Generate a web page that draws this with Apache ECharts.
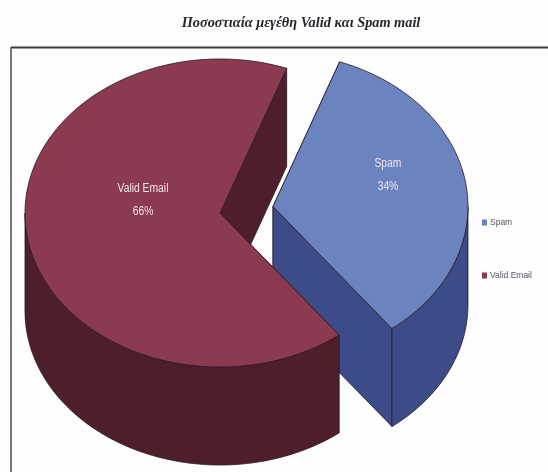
<!DOCTYPE html>
<html><head><meta charset="utf-8">
<style>html,body{margin:0;padding:0;background:#fdfdfd}#c{width:548px;height:472px;filter:blur(0.6px)}</style>
<script src="https://cdn.jsdelivr.net/npm/echarts@6/dist/echarts.min.js"></script>
</head><body><div id="c"></div>
<script>
const titleText = 'Ποσοστιαία μεγέθη Valid και Spam mail';
const categories = ['Spam', 'Valid Email'];
const values = [34, 66];

const topColors = ['#6b83bf', '#8c3a50'];
const wallColors = ['#3d4b88', '#4e1f2a'];
const edgeColor = '#2a1a2a';
const bodyFont = '"Liberation Sans",sans-serif';

// projection of the tilted pie
const RX = 195, RY = 154, DEPTH = 98;
const CX = 220, CY = 213;          // centre of the un-exploded slice
const FIRST = 70;                  // parametric angle where the first slice starts
const EXPLODE = 53.6;              // radial pull of the first slice

const total = values.reduce((a, b) => a + b, 0);
function sliceAngles(i) {
  let before = 0;
  for (let k = 0; k < i; k++) before += values[k];
  const a0 = FIRST - before / total * 360;
  return [a0, a0 - values[i] / total * 360];
}
function arc(cx, cy, from, to) {
  const pts = [], n = Math.max(2, Math.ceil(Math.abs(to - from) / 2));
  for (let k = 0; k <= n; k++) {
    const t = (from + (to - from) * k / n) * Math.PI / 180;
    pts.push([cx + RX * Math.cos(t), cy - RY * Math.sin(t)]);
  }
  return pts;
}
const drop = (pts) => pts.map(p => [p[0], p[1] + DEPTH]);
const poly = (points, fill, z2) => ({
  type: 'polygon', z2: z2,
  shape: { points: points },
  style: { fill: fill, stroke: edgeColor, lineWidth: 0.8, lineJoin: 'round' }
});

function renderSlice(i, labelOffset) {
  return function () {
    const [a0, a1] = sliceAngles(i);
    const mid = (a0 + a1) / 2 * Math.PI / 180;
    const pull = i === 0 ? EXPLODE : 0;
    const cx = CX + pull * Math.cos(mid);
    const cy = CY - pull * RY / RX * Math.sin(mid);
    const top = arc(cx, cy, a0, a1);
    const apex = [cx, cy];
    const kids = [];
    // flat cut walls, back one first
    [top[0], top[top.length - 1]].sort((p, q) => p[1] - q[1]).forEach(p => {
      kids.push(poly([apex, p, [p[0], p[1] + DEPTH], [apex[0], apex[1] + DEPTH]], wallColors[i], 1));
    });
    // curved outer wall: only the part that faces the viewer (parametric -180..0)
    const outer = arc(cx, cy, Math.min(a0, 0), Math.max(a1, -180));
    kids.push(poly(outer.concat(drop(outer).reverse()), wallColors[i], 2));
    // top face
    kids.push(poly([apex].concat(top), topColors[i], 3));
    // data label
    const lx = cx + labelOffset[0], ly = cy + labelOffset[1];
    kids.push({
      type: 'text', z2: 4,
      x: lx, y: ly, scaleX: 0.86,
      style: {
        x: 0, y: 0,
        text: categories[i] + '\n' + values[i] + '%',
        fill: '#f0e4ea', font: '12px ' + bodyFont,
        align: 'center', verticalAlign: 'middle', lineHeight: 23
      }
    });
    return { type: 'group', children: kids };
  };
}

const option = {
  animation: false,
  backgroundColor: '#fdfdfd',
  title: {
    text: titleText, left: 296, top: 11, textAlign: 'center',
    textStyle: { fontFamily: '"Liberation Serif",serif', fontStyle: 'italic', fontWeight: 'bold', fontSize: 14.3, color: '#26262e' }
  },
  legend: {
    data: categories, orient: 'vertical', left: 482, top: 218, itemGap: 44, padding: 0,
    icon: 'rect', itemWidth: 5, itemHeight: 6,
    textStyle: { fontFamily: bodyFont, fontSize: 8.5, color: '#555560', padding: [0, 0, 0, -2] }
  },
  graphic: [
    { type: 'line', silent: true, shape: { x1: 11, y1: 47.5, x2: 548, y2: 47.5 }, style: { stroke: '#3a3a40', lineWidth: 2 } },
    { type: 'line', silent: true, shape: { x1: 11, y1: 47, x2: 11, y2: 472 }, style: { stroke: '#4a4a50', lineWidth: 1.5 } }
  ],
  series: [
    { type: 'custom', name: categories[0], coordinateSystem: 'none', data: [values[0]],
      itemStyle: { color: topColors[0] }, renderItem: renderSlice(0, [115, -31]) },
    { type: 'custom', name: categories[1], coordinateSystem: 'none', data: [values[1]],
      itemStyle: { color: topColors[1] }, renderItem: renderSlice(1, [-77, -13]) }
  ]
};
echarts.init(document.getElementById('c')).setOption(option);
</script></body></html>
